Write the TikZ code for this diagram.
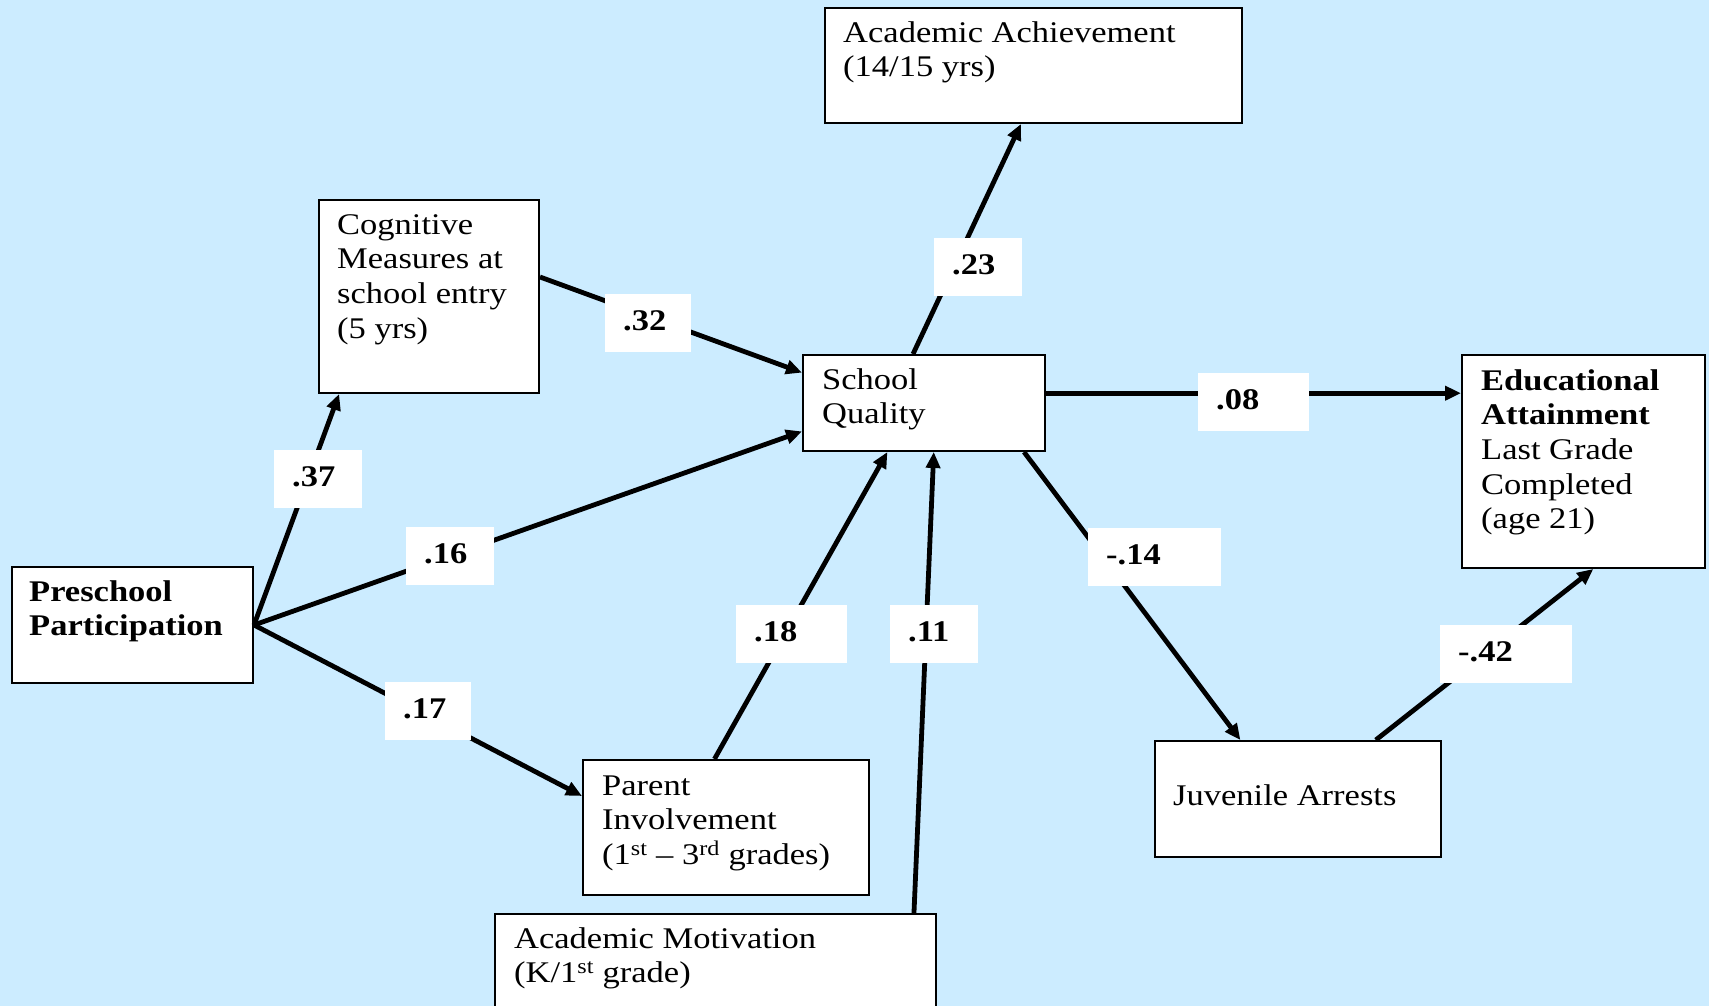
\documentclass[tikz,border=0pt]{standalone}
\usepackage{fontspec}
\setmainfont{Liberation Serif}[FakeStretch=1.15]
\usetikzlibrary{calc,arrows.meta}
\definecolor{bg}{RGB}{204,236,255}
\newcommand\tstrut{\rule{0pt}{27pt}}
\begin{document}
\begin{tikzpicture}[x=1pt,y=-1pt,
  box/.style={draw=black,line width=2pt,fill=white,anchor=north west,inner sep=0pt},
  txt/.style={anchor=north west,inner sep=0pt,align=left,font=\fontsize{30}{34.6}\selectfont},
  lbl/.style={fill=white,anchor=north west,inner xsep=18pt,inner ysep=0pt,minimum height=58pt,
              text height=20pt,text depth=6pt,align=left,font=\fontsize{30}{34.6}\selectfont\bfseries},
  arr/.style={line width=4.8pt,-{Triangle[length=16pt,width=14pt]}}]
\useasboundingbox (0,0) rectangle (1709,1006);
\clip (0,0) rectangle (1709,1006);
\fill[bg] (0,0) rectangle (1709,1006);

% boxes
\node[box,minimum width=241pt,minimum height=116pt] (pre) at (11,566) {};
\node[box,minimum width=220pt,minimum height=193pt] (cog) at (318,199) {};
\node[box,minimum width=417pt,minimum height=115pt] (aa)  at (824,7) {};
\node[box,minimum width=242pt,minimum height=96pt]  (sq)  at (802,354) {};
\node[box,minimum width=243pt,minimum height=213pt] (ea)  at (1461,354) {};
\node[box,minimum width=286pt,minimum height=135pt] (pi)  at (582,759) {};
\node[box,minimum width=441pt,minimum height=120pt] (am)  at (494,913) {};
\node[box,minimum width=286pt,minimum height=116pt] (ja)  at (1154,740) {};

% box texts
\node[txt] (pret) at ($(pre.north west)+(18,8)$) {\tstrut\textbf{Preschool}\\\textbf{Participation}};
\node[txt] (cogt) at ($(cog.north west)+(19,8)$) {\tstrut Cognitive\\Measures at\\school entry\\(5 yrs)};
\node[txt] (aat)  at ($(aa.north west)+(19,8)$)  {\tstrut Academic Achievement\\(14/15 yrs)};
\node[txt] (sqt)  at ($(sq.north west)+(20,8)$)  {\tstrut School\\Quality};
\node[txt] (eat)  at ($(ea.north west)+(20,9)$)  {\tstrut\textbf{Educational}\\\textbf{Attainment}\\Last Grade\\Completed\\(age 21)};
\node[txt] (pit)  at ($(pi.north west)+(20,9)$)  {\tstrut Parent\\Involvement\\(1\textsuperscript{st} -- 3\textsuperscript{rd} grades)};
\node[txt] (amt)  at ($(am.north west)+(20,8)$)  {\tstrut Academic Motivation\\(K/1\textsuperscript{st} grade)};
\node[txt] (jat)  at ($(ja.north west)+(19,38)$) {\tstrut Juvenile Arrests};

% connectors
\draw[arr] (pre.east) -- ($(cog.south west)!0.095!(cog.south east)$);
\draw[arr] (pre.east) -- ($(sq.north west)!0.79!(sq.south west)$);
\draw[arr] (pre.east) -- ($(pi.north west)!0.27!(pi.south west)$);
\draw[arr] ($(cog.north east)!0.40!(cog.south east)$) -- ($(sq.north west)!0.19!(sq.south west)$);
\draw[arr] ($(sq.north west)!0.455!(sq.north east)$) -- ($(aa.south west)!0.47!(aa.south east)$);
\coordinate (sqr) at ($(sq.north east)!0.40!(sq.south east)$);
\draw[arr] (sqr) -- (sqr -| ea.west);
\draw[arr] ($(sq.south west)!0.91!(sq.south east)$) -- ($(ja.north west)!0.30!(ja.north east)$);
\draw[arr] ($(ja.north west)!0.77!(ja.north east)$) -- ($(ea.south west)!0.54!(ea.south east)$);
\draw[arr] ($(pi.north west)!0.46!(pi.north east)$) -- ($(sq.south west)!0.35!(sq.south east)$);
\draw[arr] ($(am.north west)!0.948!(am.north east)$) -- ($(sq.south west)!0.54!(sq.south east)$);

% labels
\node[lbl,text width=52pt] (l37) at (274,450) {.37};
\node[lbl,text width=50pt] (l32) at (605,294) {.32};
\node[lbl,text width=52pt] (l16) at (406,527) {.16};
\node[lbl,text width=50pt] (l17) at (385,682) {.17};
\node[lbl,text width=52pt] (l23) at (934,238) {.23};
\node[lbl,text width=75pt] (l08) at (1198,373) {.08};
\node[lbl,text width=75pt] (l18) at (736,605) {.18};
\node[lbl,text width=52pt] (l11) at (890,605) {.11};
\node[lbl,text width=97pt] (l14) at (1088,528) {-.14};
\node[lbl,text width=96pt] (l42) at (1440,625) {-.42};
\end{tikzpicture}
\end{document}
